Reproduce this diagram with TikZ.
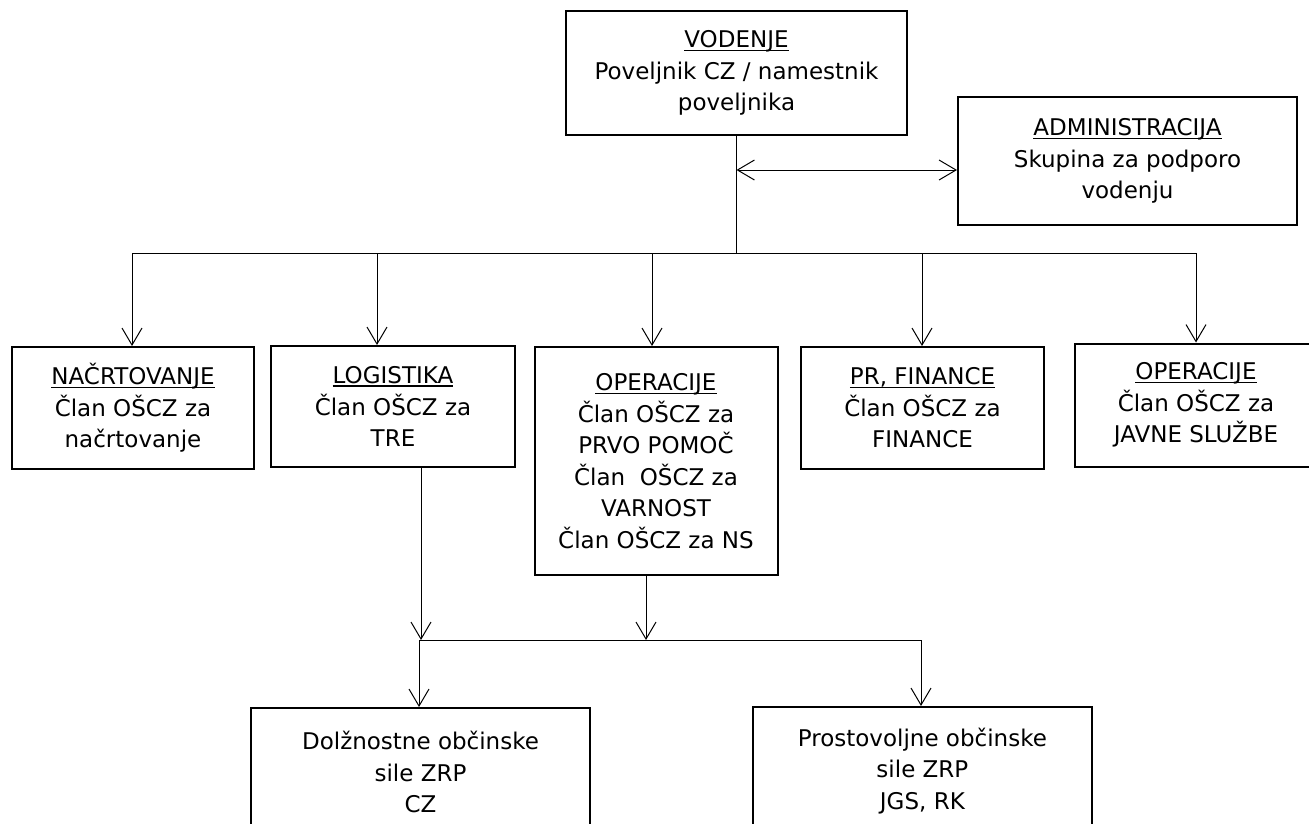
\documentclass[tikz,border=0pt]{standalone}
\usepackage{fontspec}
\setmainfont{DejaVu Sans}
\usetikzlibrary{arrows.meta}
\newcommand\myul[1]{\setbox0\hbox{#1}\rlap{\rule[-3.5pt]{\wd0}{1.6pt}}\box0}
\tikzset{
  box/.style={draw, line width=2pt, inner sep=0pt, align=center, font=\fontsize{23}{31.5}\selectfont},
  conn/.style={line width=1pt},
  arr/.style={conn, -{Straight Barb[length=17pt,width=20pt]}},
  darr/.style={conn, {Straight Barb[length=17pt,width=20pt]}-{Straight Barb[length=17pt,width=20pt]}},
}
\begin{document}
\begin{tikzpicture}[x=1pt,y=-1pt]
\useasboundingbox (0,0) rectangle (1309,823);
\clip (0,0) rectangle (1309,823);
% top row
\node[box, minimum width=341pt, minimum height=124pt] (vod) at (736.5,73)
  {\myul{VODENJE}\\Poveljnik CZ / namestnik\\poveljnika};
\node[box, minimum width=339pt, minimum height=128pt] (adm) at (1127.5,161)
  {\myul{ADMINISTRACIJA}\\Skupina za podporo\\vodenju};
% middle row
\node[box, minimum width=242pt, minimum height=122pt] (nac) at (133,408)
  {\myul{NAČRTOVANJE}\\Član OŠCZ za\\načrtovanje};
\node[box, minimum width=244pt, minimum height=121pt] (log) at (393,406.5)
  {\myul{LOGISTIKA}\\Član OŠCZ za\\TRE};
\node[box, minimum width=243pt, minimum height=228pt] (op) at (656,461)
  {\myul{OPERACIJE}\\Član OŠCZ za\\PRVO POMOČ\\Član~~OŠCZ za\\VARNOST\\Član OŠCZ za NS};
\node[box, minimum width=243pt, minimum height=122pt] (pr) at (922.5,408)
  {\myul{PR, FINANCE}\\Član OŠCZ za\\FINANCE};
\node[box, minimum width=242pt, minimum height=123pt] (op2) at (1196,405)
  {\myul{OPERACIJE}\\Član OŠCZ za\\JAVNE SLUŽBE};
% bottom row
\node[box, minimum width=339pt, minimum height=128pt] (dol) at (420.5,772)
  {Dolžnostne občinske\\sile ZRP\\CZ};
\node[box, minimum width=339pt, minimum height=128pt] (pro) at (922.4,771)
  {Prostovoljne občinske\\sile ZRP\\JGS, RK};
% coordinates
\coordinate (bus) at (736.5,253);
\coordinate (busL) at (132,253);
\coordinate (busR) at (1196,253);
\coordinate (bl) at (377,253);
\coordinate (bo) at (652,253);
\coordinate (bp) at (922,253);
\coordinate (da) at (736.5,170);
\coordinate (l2) at (421,640);
\coordinate (o2) at (646,640);
\coordinate (b2L) at (419,640);
\coordinate (b2R) at (921,640);
% connectors
\draw[conn] (vod.south) -- (bus);
\draw[darr] (da) -- (da -| adm.west);
\draw[conn] (busL) -- (busR);
\draw[arr] (busL) -- (busL |- nac.north);
\draw[arr] (bl) -- (bl |- log.north);
\draw[arr] (bo) -- (bo |- op.north);
\draw[arr] (bp) -- (bp |- pr.north);
\draw[arr] (busR) -- (busR |- op2.north);
\draw[arr] (l2 |- log.south) -- (l2);
\draw[arr] (o2 |- op.south) -- (o2);
\draw[conn] (b2L) -- (b2R);
\draw[arr] (b2L) -- (b2L |- dol.north);
\draw[arr] (b2R) -- (b2R |- pro.north);
\end{tikzpicture}
\end{document}
